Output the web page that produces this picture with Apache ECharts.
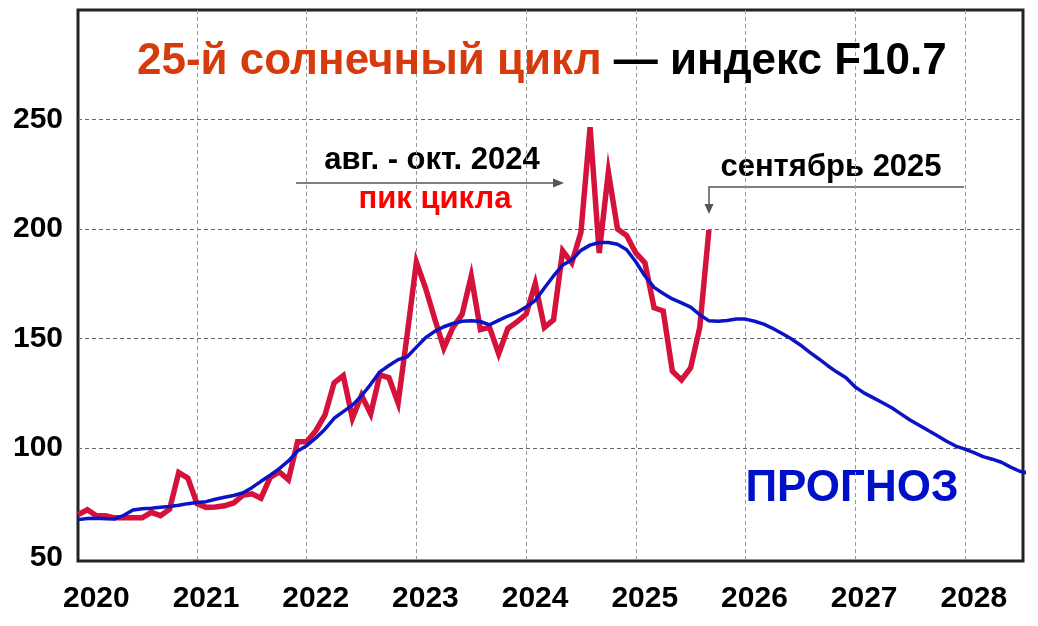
<!DOCTYPE html>
<html>
<head>
<meta charset="utf-8">
<script src="https://cdn.jsdelivr.net/npm/echarts@6/dist/echarts.min.js"></script>
<style>html,body{margin:0;padding:0;background:#fff;}#c{width:1038px;height:626px;}</style>
</head>
<body>
<div id="c"></div>
<script>
// Months are counted from January 2020 (0); first point is December 2019 (-1)
const firstMonth = -1;
// Observed monthly F10.7 (red)
const observed = [69.5,71.7,69,69,68,68,68,68,70.5,69,72,88.7,86.2,
  74.5,72.8,73,73.5,74.8,78.3,79,77,86.5,89,85.4,102.8,
  102.8,107.8,115,129.7,133,113.5,124,115.5,133.4,132,120.5,152,
  184.8,173,159,145.5,155,161,178.5,154,155,143,154.5,157.5,
  161,175,155,158.5,190,184.5,198.5,246.5,189,226,200,197,
  189,184.5,164,162.5,135,131,136.5,155,199.5];
// Smoothed values and forecast (blue)
const smoothed = [67.2,67.7,67.8,67.6,67.5,69.2,71.6,72.2,72.4,72.9,73.2,73.8,74.5,
  75,75.4,76.5,77.4,78.2,79.4,81.8,84.7,87.5,90.5,94,98.5,
  101,104.5,108.5,113.5,116.5,119.5,123.8,129,134.7,137.6,140.3,141.6,
  146,150.3,153.2,155.3,156.8,157.8,158,157.7,156.2,158.2,160.2,161.8,
  164.3,167.3,173,178.5,183.5,185.8,190.2,192.6,193.8,193.8,193,190.5,
  185,178.5,173.3,170.5,168,166.2,164.3,160.8,158,157.8,158.2,158.8,
  158.8,157.8,156.5,154.5,152.2,149.8,147,143.7,140.7,137.5,134.6,132,
  127.8,125,122.8,120.6,118.3,115.5,112.7,110.3,107.9,105.5,103,100.8,
  99.4,97.8,96,94.8,93.4,91.2,89.3,88.4];
const yearLabels = [2020,2021,2022,2023,2024,2025,2026,2027,2028];
const yearGrid = [2021,2022,2023,2024,2025,2026,2027,2028];
const yLabels = [50,100,150,200,250];
const yGrid = [100,150,200,250];

function toPairs(arr){ return arr.map((v,i)=>[2020 + (firstMonth + i)/12, v]); }

const FONT = '"Liberation Sans", Arial, sans-serif';
const chart = echarts.init(document.getElementById('c'), null, {renderer:'canvas'});
chart.setOption({
  animation: false,
  backgroundColor: '#fff',
  title: {
    text: '{a|25-й солнечный цикл}{b| — индекс F10.7}',
    left: 132, top: 35,
    textStyle: {
      rich: {
        a: {fontFamily: FONT, fontWeight: 'bold', fontSize: 44, color: '#d63b0e'},
        b: {fontFamily: FONT, fontWeight: 'bold', fontSize: 44, color: '#000'}
      }
    }
  },
  grid: {left: 78, top: 10, right: 15, bottom: 65, show: true, borderColor: '#222', borderWidth: 3, containLabel: false},
  xAxis: {
    type: 'value', min: 2019.915, max: 2028.53,
    axisLine: {show: false},
    axisTick: {show: false, customValues: yearGrid},
    splitLine: {show: true, lineStyle: {color: '#999', width: 1, type: [4,3]}},
    axisLabel: {customValues: yearLabels, formatter: v => String(Math.round(v)), fontFamily: FONT, fontWeight: 'bold', fontSize: 30, color: '#000', margin: 23, padding: [0,0,0,18]}
  },
  yAxis: {
    type: 'value', min: 48.3, max: 300,
    axisLine: {show: false},
    axisTick: {show: false, customValues: yGrid},
    splitLine: {show: true, lineStyle: {color: '#666', width: 1, type: [4,3]}},
    axisLabel: {customValues: yLabels, fontFamily: FONT, fontWeight: 'bold', fontSize: 30, color: '#000', margin: 15, padding: [3,0,0,0]}
  },
  series: [
    {type: 'line', data: toPairs(observed), symbol: 'none', lineStyle: {color: '#d4123c', width: 5.5, join: 'miter'}, z: 2},
    {type: 'line', data: toPairs(smoothed), symbol: 'none', lineStyle: {color: '#0a14c4', width: 3.5}, z: 3}
  ],
  graphic: [
    {type: 'text', x: 432, y: 160, style: {text: 'авг. - окт. 2024', font: 'bold 31px ' + FONT, fill: '#000', align: 'center', verticalAlign: 'middle'}},
    {type: 'line', shape: {x1: 296, y1: 183, x2: 555, y2: 183}, style: {stroke: '#555', lineWidth: 1.5}},
    {type: 'polygon', shape: {points: [[564,183],[553,178.5],[553,187.5]]}, style: {fill: '#555'}},
    {type: 'text', x: 435, y: 199, style: {text: 'пик цикла', font: 'bold 31px ' + FONT, fill: '#ff0000', align: 'center', verticalAlign: 'middle'}},
    {type: 'text', x: 831, y: 167, style: {text: 'сентябрь 2025', font: 'bold 31px ' + FONT, fill: '#000', align: 'center', verticalAlign: 'middle'}},
    {type: 'polyline', shape: {points: [[964,187],[709,187],[709,205]]}, style: {stroke: '#555', lineWidth: 1.5, fill: null}},
    {type: 'polygon', shape: {points: [[709,214],[704.5,204],[713.5,204]]}, style: {fill: '#555'}},
    {type: 'text', x: 852, y: 489, style: {text: 'ПРОГНОЗ', font: 'bold 44px ' + FONT, fill: '#0010c8', align: 'center', verticalAlign: 'middle'}}
  ]
});
</script>
</body>
</html>
